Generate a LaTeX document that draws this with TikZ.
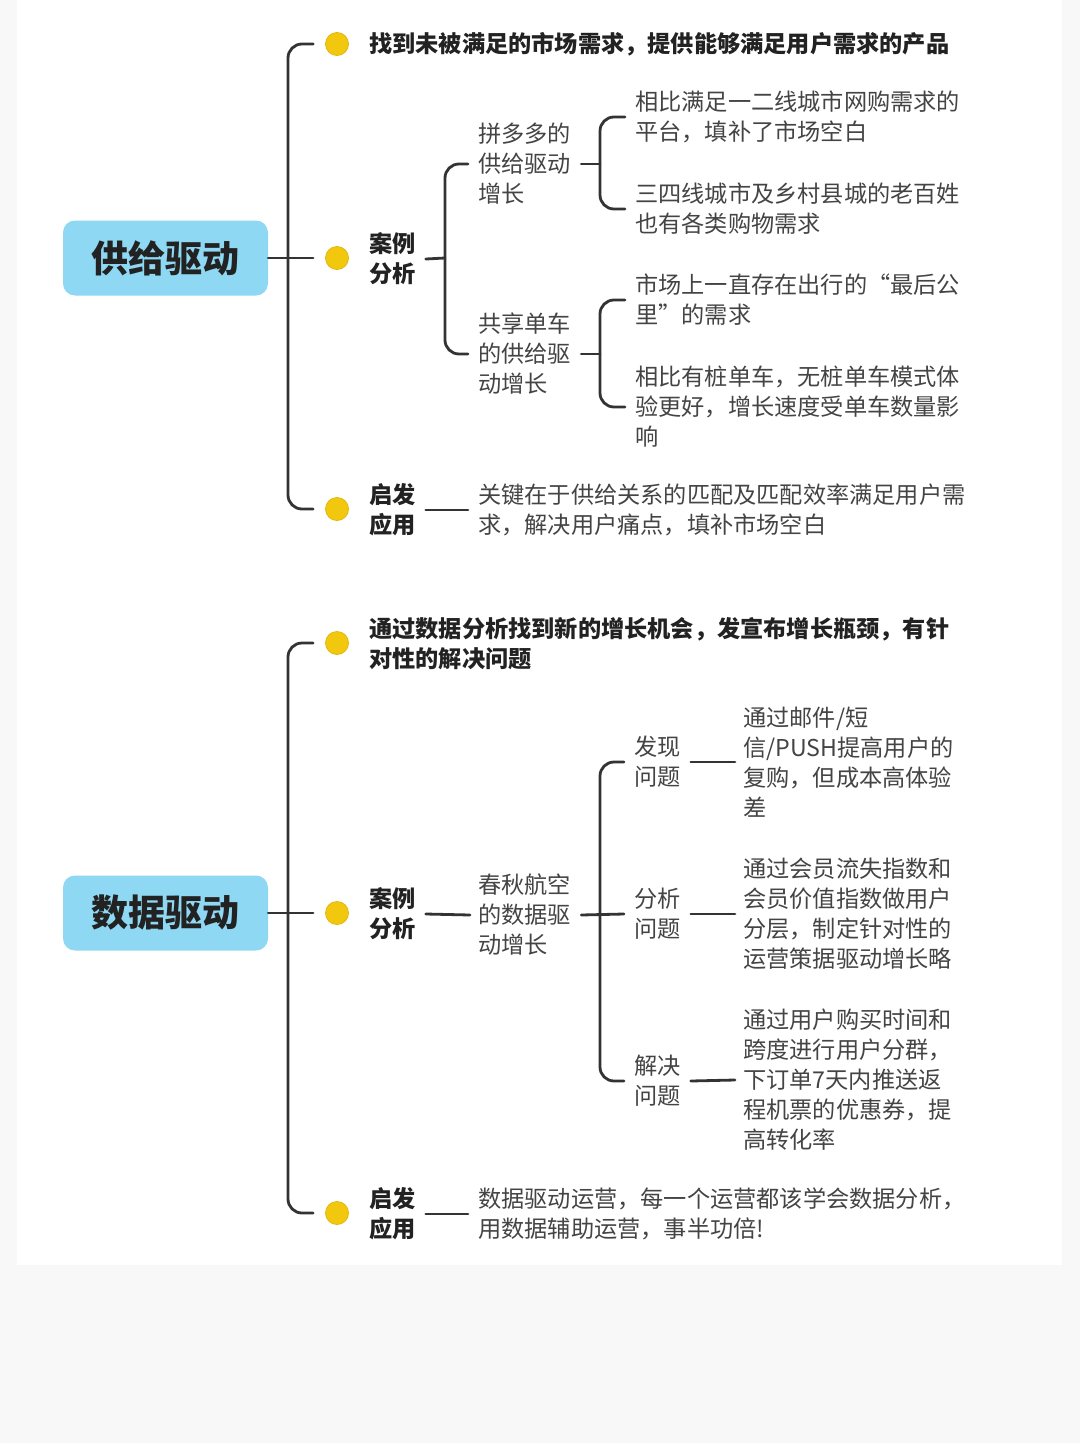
\documentclass[tikz,border=0pt]{standalone}
\usepackage{fontspec}
\setmainfont{Noto Sans CJK SC}
\definecolor{bgc}{HTML}{F8F8F8}
\definecolor{rootc}{HTML}{8ED8F4}
\definecolor{dotc}{HTML}{F2C80F}
\definecolor{dotb}{HTML}{E2B70A}
\definecolor{linec}{HTML}{333333}
\definecolor{textd}{HTML}{222222}
\definecolor{textn}{HTML}{444444}
\tikzset{
  conn/.style={draw=linec, line width=2.8pt, line cap=round},
  ydot/.style={circle, fill=dotc, draw=dotb, line width=0.8pt, minimum size=23pt, inner sep=0pt},
  rootbox/.style={fill=rootc, rounded corners=12pt, minimum width=205pt, minimum height=75pt, inner sep=0pt, font=\fontsize{37}{40}\selectfont\bfseries, text=textd},
  bt/.style={anchor=west, inner sep=0pt, align=left, font=\fontsize{23.2}{30}\selectfont\bfseries, text=textd},
  nt/.style={anchor=west, inner sep=0pt, align=left, font=\fontsize{23.2}{30}\selectfont, text=textn},
}
\begin{document}
\begin{tikzpicture}[x=1pt,y=-1pt]
\fill[bgc] (0,0) rectangle (1080,1443);
\fill[white] (17,0) rectangle (1062,1265);
\useasboundingbox (0,0) rectangle (1080,1443);

% ---------- Section 1 ----------
\node[rootbox] (r1) at (165.5,258) {供给驱动};
\node[ydot] (a1) at (337,44) {};
\node[bt] (a1t) at (369,44) {找到未被满足的市场需求，提供能够满足用户需求的产品};
\node[ydot] (a2) at (337,258) {};
\node[bt] (a2t) at (369,259) {案例\\分析};
\node[ydot] (a3) at (337,509) {};
\node[bt] (a3t) at (369,510) {启发\\应用};
\node[nt] (p1) at (478,164) {拼多多的\\供给驱动\\增长};
\node[nt] (p2) at (478,354) {共享单车\\的供给驱\\动增长};
\node[nt] (l1) at (635,117) {相比满足一二线城市网购需求的\\平台，填补了市场空白};
\node[nt] (l2) at (635,209) {三四线城市及乡村县城的老百姓\\也有各类购物需求};
\node[nt] (l3) at (635,300) {市场上一直存在出行的“最后公\\里”的需求};
\node[nt] (l4) at (635,407) {相比有桩单车，无桩单车模式体\\验更好，增长速度受单车数量影\\响};
\node[nt] (a3l) at (478,510) {关键在于供给关系的匹配及匹配效率满足用户需\\求，解决用户痛点，填补市场空白};

\coordinate (s1) at (288,258);
\draw[conn,rounded corners=14pt] ([xshift=-12pt]a1.west) -| (s1) |- ([xshift=-12pt]a3.west);
\draw[conn] (r1.east) -- ([xshift=-12pt]a2.west);
\coordinate (s2) at (445,258);
\draw[conn] ([xshift=10pt]a2t.east) -- (s2);
\draw[conn,rounded corners=14pt] ([xshift=-10pt]p1.west) -| (s2) |- ([xshift=-10pt]p2.west);
\coordinate (s3) at (600,164);
\draw[conn] ([xshift=10pt]p1.east) -- (s3);
\draw[conn,rounded corners=14pt] ([xshift=-10pt]l1.west) -| (s3) |- ([xshift=-10pt]l2.west);
\coordinate (s4) at (600,354);
\draw[conn] ([xshift=10pt]p2.east) -- (s4);
\draw[conn,rounded corners=14pt] ([xshift=-10pt]l3.west) -| (s4) |- ([xshift=-10pt]l4.west);
\draw[conn] ([xshift=10pt]a3t.east) -- ([xshift=-10pt]a3l.west);

% ---------- Section 2 ----------
\node[rootbox] (r2) at (165.5,913) {数据驱动};
\node[ydot] (b1) at (337,643) {};
\node[bt] (b1t) at (369,644) {通过数据分析找到新的增长机会，发宣布增长瓶颈，有针\\对性的解决问题};
\node[ydot] (b2) at (337,913) {};
\node[bt] (b2t) at (369,914) {案例\\分析};
\node[ydot] (b3) at (337,1213) {};
\node[bt] (b3t) at (369,1214) {启发\\应用};
\node[nt] (c1) at (478,915) {春秋航空\\的数据驱\\动增长};
\node[nt] (q1) at (634,762) {发现\\问题};
\node[nt] (q2) at (634,914) {分析\\问题};
\node[nt] (q3) at (634,1081) {解决\\问题};
\node[nt] (m1) at (743,762) {通过邮件/短\\信/PUSH提高用户的\\复购，但成本高体验\\差};
\node[nt] (m2) at (743,914) {通过会员流失指数和\\会员价值指数做用户\\分层，制定针对性的\\运营策据驱动增长略};
\node[nt] (m3) at (743,1080) {通过用户购买时间和\\跨度进行用户分群，\\下订单7天内推送返\\程机票的优惠券，提\\高转化率};
\node[nt] (b3l) at (478,1214) {数据驱动运营，每一个运营都该学会数据分析，\\用数据辅助运营，事半功倍!};

\coordinate (t1) at (288,913);
\draw[conn,rounded corners=14pt] ([xshift=-12pt]b1.west) -| (t1) |- ([xshift=-12pt]b3.west);
\draw[conn] (r2.east) -- ([xshift=-12pt]b2.west);
\draw[conn] ([xshift=10pt]b2t.east) -- ([xshift=-8pt]c1.west);
\coordinate (t2) at (600,914);
\draw[conn] ([xshift=10pt]c1.east) -- ([xshift=-10pt]q2.west);
\draw[conn,rounded corners=14pt] ([xshift=-10pt]q1.west) -| (t2) |- ([xshift=-10pt]q3.west);
\draw[conn] ([xshift=10pt]q1.east) -- ([xshift=-8pt]m1.west);
\draw[conn] ([xshift=10pt]q2.east) -- ([xshift=-8pt]m2.west);
\draw[conn] ([xshift=10pt]q3.east) -- ([xshift=-8pt]m3.west);
\draw[conn] ([xshift=10pt]b3t.east) -- ([xshift=-10pt]b3l.west);
\end{tikzpicture}
\end{document}
